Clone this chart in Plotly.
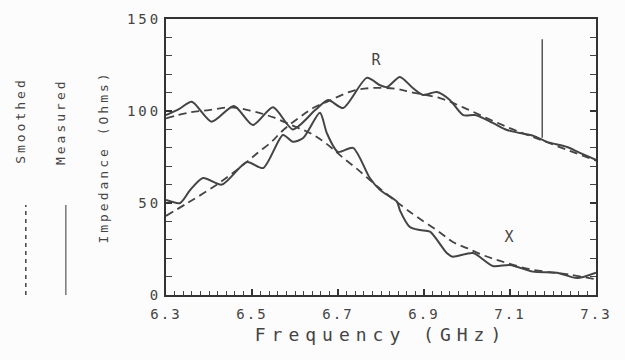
import plotly.graph_objects as go

# ---- data ----
freq_R_meas = [6.30, 6.33, 6.36, 6.406, 6.458, 6.502, 6.549, 6.595, 6.647, 6.677, 6.712,
               6.767, 6.798, 6.814, 6.844, 6.874, 6.898, 6.930, 6.960, 6.991, 7.019,
               7.06, 7.093, 7.123, 7.155, 7.186, 7.233, 7.26, 7.30]
R_meas = [97.8, 101, 105, 94.2, 102.7, 92.4, 102, 90, 100.5, 106, 101.6,
          118, 114, 113, 118.5, 112.5, 108.7, 110.3, 106, 97.8, 97.8,
          93.5, 89.7, 88, 86.5, 83.2, 80.4, 77.5, 73.4]

freq_X_meas = [6.30, 6.333, 6.356, 6.386, 6.43, 6.488, 6.526, 6.572, 6.595, 6.619, 6.658,
               6.674, 6.70, 6.735, 6.774, 6.798, 6.837, 6.844, 6.867, 6.891, 6.914,
               6.953, 6.967, 7.014, 7.06, 7.10, 7.153, 7.209, 7.256, 7.30]
X_meas = [51.6, 50, 57, 63.6, 60, 72.3, 69, 87, 83.3, 85.3, 99,
          88, 77.7, 80, 63.6, 57, 50.7, 46, 37, 35.3, 34.4,
          22.8, 20.8, 22.8, 15.8, 16.3, 12.7, 12.1, 9.2, 12.1]

# smoothed curve that starts near R and finishes on X
freq_smooth_a = [6.30, 6.35, 6.40, 6.45, 6.50, 6.55, 6.60, 6.635, 6.663, 6.69, 6.712,
                 6.747, 6.793, 6.851, 6.884, 6.937, 6.967, 7.00, 7.037, 7.077, 7.147,
                 7.24, 7.30]
smooth_a = [96, 99, 100.5, 102, 100, 96.5, 91.5, 88, 84, 79, 74.5,
            68, 58.7, 48, 42.4, 34, 28.8, 25.5, 21.7, 18.5, 14,
            11, 8.5]

# smoothed curve that starts near X and finishes on R
freq_smooth_b = [6.30, 6.35, 6.41, 6.465, 6.512, 6.549, 6.565, 6.59, 6.619, 6.642, 6.674,
                 6.735, 6.781, 6.837, 6.874, 6.937, 6.991, 7.047, 7.107, 7.186, 7.30]
smooth_b = [43, 50, 58.7, 68, 77, 84, 88, 93, 98, 101.6, 105,
            111, 112.5, 112, 110, 107, 102, 96, 90, 83, 73]

marker_freq = [7.175, 7.175]
marker_imp = [85.5, 139]

curve_labels = ["R", "X"]
curve_label_freq = [6.793, 7.10]
curve_label_imp = [127.7, 31.5]

x_ticks = [6.3, 6.5, 6.7, 6.9, 7.1, 7.3]
y_ticks = [0, 50, 100, 150]

INK = "#444444"
MONO = "DejaVu Sans Mono"

fig = go.Figure()
for fx, fy in [(freq_R_meas, R_meas), (freq_X_meas, X_meas)]:
    fig.add_trace(go.Scatter(x=fx, y=fy, mode="lines",
                             line=dict(color=INK, width=2, shape="spline", smoothing=0.7),
                             showlegend=False, hoverinfo="skip"))
for fx, fy in [(freq_smooth_a, smooth_a), (freq_smooth_b, smooth_b)]:
    fig.add_trace(go.Scatter(x=fx, y=fy, mode="lines",
                             line=dict(color=INK, width=1.8, dash="8px,5px", shape="spline", smoothing=1.0),
                             showlegend=False, hoverinfo="skip"))
fig.add_trace(go.Scatter(x=marker_freq, y=marker_imp, mode="lines",
                         line=dict(color="#555555", width=1.5), showlegend=False, hoverinfo="skip"))

for t, fx, fy in zip(curve_labels, curve_label_freq, curve_label_imp):
    fig.add_annotation(x=fx, y=fy, text=t, showarrow=False,
                       font=dict(family=MONO, size=15, color=INK))

# rotated legend at the left
fig.add_annotation(xref="paper", yref="paper", x=-0.362, y=0.634, text="Smoothed",
                   textangle=-90, showarrow=False, font=dict(family=MONO, size=13, color=INK))
fig.add_annotation(xref="paper", yref="paper", x=-0.266, y=0.627, text="Measured",
                   textangle=-90, showarrow=False, font=dict(family=MONO, size=13, color=INK))
fig.add_shape(type="line", xref="paper", yref="paper", x0=-0.326, x1=-0.326, y0=0.0, y1=0.326,
              line=dict(color=INK, width=1.5, dash="4px,4px"))
fig.add_shape(type="line", xref="paper", yref="paper", x0=-0.233, x1=-0.233, y0=0.0, y1=0.326,
              line=dict(color="#777777", width=1.5))

axis_common = dict(showgrid=False, zeroline=False, showline=True, linecolor="#333333", linewidth=2,
                   ticks="inside", tickcolor="#333333", tickwidth=1.5,
                   tickfont=dict(family=MONO, size=14, color=INK))

fig.update_xaxes(range=[6.3, 7.3], tickvals=x_ticks, ticktext=[f"{v:.1f}" for v in x_ticks],
                 ticklen=6, mirror=True, ticklabelstandoff=5,
                 minor=dict(dtick=0.02, tick0=6.3, ticks="inside", ticklen=4, tickcolor="#444444", tickwidth=1),
                 title=dict(text="Frequency (GHz)", font=dict(family=MONO, size=18, color=INK), standoff=8),
                 **axis_common)
fig.update_yaxes(range=[0, 150], tickvals=y_ticks, ticklen=6, mirror="ticks",
                 minor=dict(dtick=10, tick0=0, ticks="inside", ticklen=6, tickcolor="#444444", tickwidth=1),
                 title=dict(text="Impedance (Ohms)", font=dict(family=MONO, size=13, color=INK), standoff=24),
                 **axis_common)

fig.update_layout(width=625, height=360, margin=dict(l=166, r=29, t=19, b=65),
                  paper_bgcolor="#fcfcfc", plot_bgcolor="#fcfcfc")

post = ("var s=document.createElement('style');"
        "s.textContent='.xtitle{letter-spacing:6px}.ytitle{letter-spacing:3px}"
        ".xtick text{letter-spacing:2px}.ytick text{letter-spacing:3px}"
        ".annotation-text{letter-spacing:3px}';"
        "document.head.appendChild(s);")
fig.write_html("out.html", post_script=post)
